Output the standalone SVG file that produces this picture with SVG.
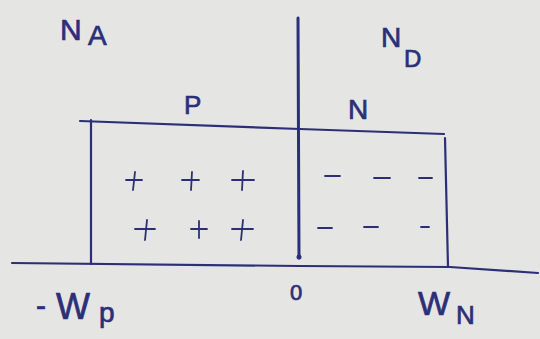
<svg xmlns="http://www.w3.org/2000/svg" width="540" height="339" viewBox="0 0 540 339">
<style>
.ink{stroke:#2c2f78;stroke-width:2.2;fill:none;stroke-linecap:round;stroke-linejoin:round}
.thick{stroke-width:3}
.t{fill:#2c2f78;stroke:#2c2f78;stroke-width:0.7;font-family:"Liberation Sans",Arial,sans-serif}
.sym{stroke:#2c2f78;stroke-width:1.8;fill:none;stroke-linecap:round}
</style>
<rect width="540" height="339" fill="#e5e5e3"/>
<g id="axis">
<path class="ink" d="M12 263 L300 266 L450 267 L538 273"/>
</g>
<g id="junction">
<path class="ink thick" d="M298 18 L299 258"/>
<circle cx="299" cy="257" r="2.5" fill="#2c2f78"/>
</g>
<g id="box">
<path class="ink" d="M80 121 L300 129 L444 134"/>
<path class="ink" d="M91 120 L91 264"/>
<path class="ink" d="M445 138 L448 267"/>
</g>
<g id="plus">
<path class="sym" d="M126 180 L142 180 M135 172 L133 190"/>
<path class="sym" d="M182 180 L199 180 M192 172 L191 190"/>
<path class="sym" d="M232 180 L254 180 M243 171 L242 190"/>
<path class="sym" d="M135 229 L155 229 M147 220 L145 240"/>
<path class="sym" d="M191 229 L207 229 M199 221 L199 238"/>
<path class="sym" d="M232 229 L253 229 M243 220 L241 240"/>
</g>
<g id="minus">
<path class="sym" d="M325 176 L340 176"/>
<path class="sym" d="M374 178 L390 178"/>
<path class="sym" d="M419 178 L432 178"/>
<path class="sym" d="M318 228 L332 228"/>
<path class="sym" d="M364 227 L378 227"/>
<path class="sym" d="M421 227 L429 227"/>
</g>
<g id="labels">
<text class="t" x="60" y="40" font-size="30">N</text>
<text class="t" x="88" y="45" font-size="28">A</text>
<text class="t" x="381" y="47" font-size="28">N</text>
<text class="t" x="404" y="67" font-size="24">D</text>
<text class="t" x="184" y="114" font-size="26">P</text>
<text class="t" x="348" y="119" font-size="28">N</text>
<text class="t" x="36" y="316" font-size="30">-</text>
<text class="t" x="56" y="319" font-size="36">W</text>
<text class="t" x="99" y="322" font-size="28">p</text>
<text class="t" x="290" y="300" font-size="22">0</text>
<text class="t" x="418" y="315" font-size="34">W</text>
<text class="t" x="456" y="324" font-size="26">N</text>
</g>
</svg>
